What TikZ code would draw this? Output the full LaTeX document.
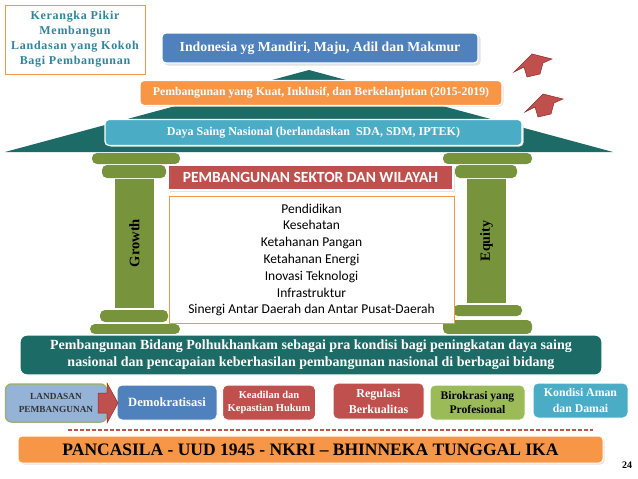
\documentclass[tikz,border=0pt]{standalone}
\usepackage{fontspec}
\setmainfont{Liberation Serif}
\newfontfamily\calib{Carlito}
\newfontfamily\spaced[LetterSpace=6]{Liberation Serif}
\usetikzlibrary{shapes.arrows}
\definecolor{roofteal}{HTML}{1C6B66}
\definecolor{olive}{HTML}{77933C}
\definecolor{boxblue}{HTML}{4F81BD}
\definecolor{boxorange}{HTML}{F79646}
\definecolor{lightblue}{HTML}{4BACC6}
\definecolor{boxred}{HTML}{C0504D}
\definecolor{boxgreen}{HTML}{9BBB59}
\definecolor{landfill}{HTML}{95B3D7}
\definecolor{landedge}{HTML}{9CB07E}
\definecolor{titleblue}{HTML}{31849B}
\definecolor{darkred}{HTML}{8C2E2C}
\tikzset{
  band/.style={draw=white, line width=1.2pt, rounded corners=4pt, inner sep=0pt, font=\bfseries, text=white},
  pill/.style={fill=olive, rounded corners=5pt},
  shaft/.style={fill=olive},
  softshadow/.style={fill=gray!22, rounded corners=4pt},
  sector/.style={font=\calib\fontsize{13.5}{16.8}\selectfont, align=center},
  smallbox/.style={draw=white, line width=1pt, rounded corners=5pt, inner sep=0pt, align=center, font=\bfseries\fontsize{12}{15}\selectfont},
}
\begin{document}
\begin{tikzpicture}[x=1pt,y=-1pt]
\useasboundingbox (0,0) rectangle (638,479);
\fill[white] (0,0) rectangle (638,479);

% title box
\node[draw=boxorange, line width=1pt, fill=white, minimum width=140pt, minimum height=69pt, align=center, inner sep=0pt,
  text=titleblue, font=\spaced\bfseries\fontsize{12}{15}\selectfont] (title) at (75,39.5)
  {Kerangka Pikir\\Membangun\\Landasan yang Kokoh\\Bagi Pembangunan};

% roof
\fill[roofteal] (5,152) -- (309,70) -- (613,152) -- cycle;

% top bands
\fill[softshadow] (164,35) rectangle (480.5,65.5);
\node[band, fill=boxblue, minimum width=316pt, minimum height=30pt, font=\bfseries\fontsize{13.8}{15}\selectfont] (goal) at (320,48)
  {Indonesia yg Mandiri, Maju, Adil dan Makmur};
\fill[softshadow] (142,83) rectangle (503.5,106.5);
\node[band, fill=boxorange, minimum width=362pt, minimum height=25pt, font=\bfseries\fontsize{11.8}{13}\selectfont] (kuat) at (321,93)
  {Pembangunan yang Kuat, Inklusif, dan Berkelanjutan (2015-2019)};
\fill[softshadow] (107,122) rectangle (523.5,146.5);
\node[band, fill=lightblue, minimum width=417pt, minimum height=26pt, font=\bfseries\fontsize{12}{13}\selectfont] (daya) at (313.5,132.5)
  {Daya Saing Nasional (berlandaskan\ \ SDA, SDM, IPTEK)};

% up arrows
\begin{scope}[fill=boxred, draw=darkred, line width=0.5pt]
\filldraw (532,54) -- (552,59) -- (543,63) -- (540,74) -- (527,77) -- (524,67) -- (514,72) -- cycle;
\filldraw (543,94) -- (563,99) -- (554,103) -- (551,114) -- (538,117) -- (535,107) -- (525,112) -- cycle;
\end{scope}

% left pillar
\fill[pill] (92,153) rectangle (180,164);
\fill[pill] (102,165) rectangle (166,178);
\fill[shaft] (115,179) rectangle (154,308);
\fill[pill] (100,310) rectangle (168,322);
\fill[pill] (90,324) rectangle (180,334);
\node[rotate=90, font=\bfseries\fontsize{14.5}{16}\selectfont] (growth) at (134.5,243) {Growth};

% right pillar
\fill[pill] (443,153) rectangle (532,164);
\fill[pill] (455,165) rectangle (517,178);
\fill[shaft] (467,179) rectangle (506,303);
\fill[pill] (453,305) rectangle (522,316);
\fill[pill] (443,320) rectangle (532,334);
\node[rotate=90, font=\bfseries\fontsize{14}{16}\selectfont] (equity) at (486.5,241) {Equity};

% sector header and list
\fill[gray!22] (170,167) rectangle (454.5,191.5);
\node[draw=white, line width=1.2pt, fill=boxred, minimum width=285pt, minimum height=25pt, inner sep=0pt,
  text=white, font=\calib\bfseries\fontsize{15.5}{17}\selectfont] (sektor) at (310.5,177.5) {PEMBANGUNAN SEKTOR DAN WILAYAH};
\node[draw=boxorange, line width=1pt, fill=white, minimum width=285pt, minimum height=127pt, inner sep=0pt] (list) at (311.5,260) {};
\node[sector] (items) at (311.5,260) {Pendidikan\\Kesehatan\\Ketahanan Pangan\\Ketahanan Energi\\Inovasi Teknologi\\Infrastruktur\\Sinergi Antar Daerah dan Antar Pusat-Daerah};

% teal band
\node[band, fill=roofteal, rounded corners=7pt, minimum width=582pt, minimum height=40pt, align=center,
  font=\bfseries\fontsize{14}{17}\selectfont] (polhuk) at (311,355)
  {Pembangunan Bidang Polhukhankam sebagai pra kondisi bagi peningkatan daya saing\\nasional dan pencapaian keberhasilan pembangunan nasional di berbagai bidang};

% bottom row
\node[draw=landedge, line width=1.5pt, fill=landfill, rounded corners=6pt, minimum width=101pt, minimum height=38pt, inner sep=0pt,
  align=center, text=black!80, font=\bfseries\fontsize{9.3}{12.5}\selectfont] (landasan) at (56,403) {LANDASAN\\PEMBANGUNAN};
\node[smallbox, fill=boxblue, minimum width=100pt, minimum height=35pt, text=white, font=\bfseries\fontsize{12.6}{14}\selectfont] (demo) at (167,402.5) {Demokratisasi};
\filldraw[fill=boxred, draw=darkred, line width=0.5pt] (98,393) -- (107,393) -- (107,383) -- (118,403) -- (107,423) -- (107,413) -- (98,413) -- cycle;
\node[smallbox, fill=boxred, minimum width=93pt, minimum height=35pt, text=white, font=\bfseries\fontsize{10.5}{13.5}\selectfont] (keadilan) at (269,402.5) {Keadilan dan\\Kepastian Hukum};
\node[smallbox, fill=boxred, minimum width=91pt, minimum height=36pt, text=white, font=\bfseries\fontsize{12}{16}\selectfont] (regulasi) at (378.5,401) {Regulasi\\Berkualitas};
\node[smallbox, fill=boxgreen, minimum width=95pt, minimum height=35pt, text=black, font=\bfseries\fontsize{11.6}{14.5}\selectfont] (birokrasi) at (477.5,402.5) {Birokrasi yang\\Profesional};
\node[smallbox, fill=lightblue, minimum width=95pt, minimum height=35pt, text=white, font=\bfseries\fontsize{11.8}{16}\selectfont] (kondisi) at (580.5,400.5) {Kondisi Aman\\dan Damai};

% dashed line
\coordinate (dl) at (68,430);
\coordinate (dr) at (593,430);
\draw[boxred, line width=1.2pt, dash pattern=on 4pt off 2pt] (dl) -- (dr);

% bottom bar
\fill[softshadow] (20,438) rectangle (604.5,464.5);
\node[draw=white, line width=1pt, fill=boxorange, rounded corners=4pt, minimum width=585pt, minimum height=27pt, inner sep=0pt,
  font=\bfseries\fontsize{17.5}{19}\selectfont] (pancasila) at (310.5,449.5) {PANCASILA - UUD 1945 - NKRI -- BHINNEKA TUNGGAL IKA};

\node[font=\bfseries\fontsize{10}{12}\selectfont] (page) at (627,465) {24};
\end{tikzpicture}
\end{document}
